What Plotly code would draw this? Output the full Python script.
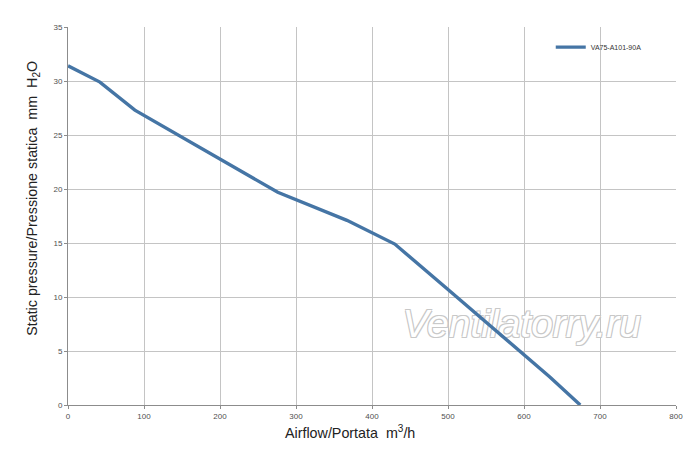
import plotly.graph_objects as go

# fan curve
airflow = [0, 42, 88, 276, 367, 430, 500, 595, 634, 674]
pressure = [31.4, 29.9, 27.3, 19.7, 17.1, 14.9, 10.7, 4.9, 2.6, 0]
series_name = "VA75-A101-90A"

x_ticks = [0, 100, 200, 300, 400, 500, 600, 700, 800]
y_ticks = [0, 5, 10, 15, 20, 25, 30, 35]

fig = go.Figure()

# watermark as a text trace so the curve is drawn over it
outline = "1px 1px 0 #c8c8c8, -1px -1px 0 #c8c8c8, 1px -1px 0 #c8c8c8, -1px 1px 0 #c8c8c8"
fig.add_trace(go.Scatter(
    x=[597], y=[7.2], mode="text", text=["<i>Ventilatorry.ru</i>"], showlegend=False,
    hoverinfo="skip",
    textfont=dict(family="Liberation Sans, Arial", size=39, color="white", shadow=outline),
))

fig.add_trace(go.Scatter(
    x=airflow, y=pressure, mode="lines", name=series_name,
    line=dict(color="#4575a5", width=3.4),
))

# white patch behind the legend, hides the grid like in the original
fig.add_shape(type="rect", xref="x", yref="y", x0=642, x1=789, y0=23.6, y1=35,
              fillcolor="white", line=dict(width=0), layer="below")

title_font = dict(family="Liberation Sans, Arial", size=14.3, color="#222")
fig.add_annotation(x=0.464, y=-0.1, xref="paper", yref="paper", showarrow=False,
                   text="Airflow/Portata  m<sup>3</sup>/h", font=title_font)
fig.add_annotation(x=-0.0757, y=0.548, xref="paper", yref="paper", showarrow=False,
                   textangle=-90, text="Static pressure/Pressione statica  mm  H<sub>2</sub>O",
                   font=title_font)

axis_font = dict(family="Liberation Sans Narrow, Liberation Sans, Arial", size=8, color="#505050")
fig.update_xaxes(
    range=[0, 800], tickvals=x_ticks, showgrid=True, gridcolor="#c4c4c4", gridwidth=1,
    showline=True, linecolor="#8c8c8c", ticks="outside", ticklen=3, tickcolor="#8c8c8c",
    tickfont=axis_font, zeroline=False, automargin=False,
)
fig.update_yaxes(
    range=[0, 35], tickvals=y_ticks, showgrid=True, gridcolor="#c4c4c4", gridwidth=1,
    showline=True, linecolor="#8c8c8c", ticks="outside", ticklen=3, tickcolor="#8c8c8c",
    tickfont=axis_font, zeroline=False, automargin=False,
)

fig.update_layout(
    width=700, height=458,
    margin=dict(l=60, r=32, t=19, b=61),
    plot_bgcolor="white", paper_bgcolor="white",
    showlegend=True,
    legend=dict(x=0.794, y=0.985, xanchor="left", yanchor="top", bgcolor="rgba(0,0,0,0)",
                font=dict(family="Liberation Sans Narrow, Arial", size=7, color="#333"),
                itemwidth=30, tracegroupgap=0),
)

fig.write_html("out.html")
